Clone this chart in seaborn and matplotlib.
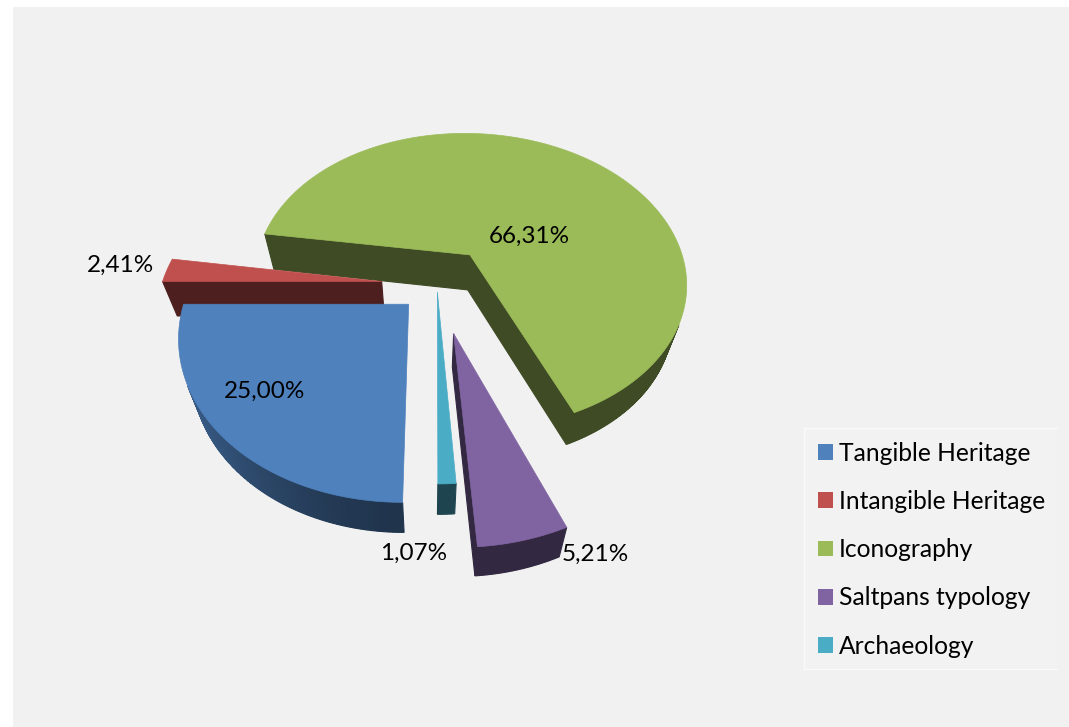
import numpy as np
import matplotlib
matplotlib.use("Agg")
import matplotlib.pyplot as plt
from matplotlib.patches import Polygon, Patch, Rectangle
import seaborn as sns

categories = ["Tangible Heritage", "Intangible Heritage", "Iconography", "Saltpans typology", "Archaeology"]
shares = [25.00, 2.41, 66.31, 5.21, 1.07]
explosion = [0.178, 0.253, 0.253, 0.311, 0.049]
slice_colors = ["#4f81bd", "#c0504d", "#9bbb59", "#8064a2", "#4bacc6"]

sns.set_theme(style="white")
plt.rcParams["font.family"] = ["Lato", "DejaVu Sans"]
palette = sns.color_palette(slice_colors)

# Slice geometry comes from matplotlib's own pie layout.
_, pie_ax = plt.subplots()
wedges = pie_ax.pie(shares, explode=explosion, startangle=270, counterclock=False, radius=1.0)[0]
pie_geometry = [(np.array(w.center), w.r, w.theta1, w.theta2) for w in wedges]
plt.close(_)

fig = plt.figure(figsize=(10.69, 7.27), dpi=100, facecolor="white")
ax = fig.add_axes([0, 0, 1, 1])
ax.set_xlim(0, 1069)
ax.set_ylim(727, 0)
ax.axis("off")
ax.add_patch(Rectangle((13, 7), 1056, 720, facecolor="#f1f1f1", edgecolor="none", zorder=0))

R, VIEW = 225.0, 1200.0


def project(x, y):
    """Tilted perspective view of the pie plane."""
    px = np.asarray(x) * R + 2
    z = -np.asarray(y) * R - 28
    s = 1 / (1 - z / VIEW)
    return 435 + px * s, -554 + 858 * s


def drop(X, Y):
    """Lower face of the extruded slice."""
    return 430 + (X - 430) * 0.945, Y + 35 - 0.02 * (Y - 254)


def shade(color, f):
    return tuple(np.clip(np.array(color) * f, 0, 1))


z = 2
for i in [2, 1, 0, 4, 3]:
    (c, r, t1, t2), col = pie_geometry[i], palette[i]
    th = np.radians(np.linspace(t1, t2, max(int(t2 - t1) * 2, 6)))
    x = np.r_[c[0], c[0] + r * np.cos(th)]
    y = np.r_[c[1], c[1] + r * np.sin(th)]
    X, Y = project(x, y)
    BX, BY = drop(X, Y)
    n = len(X)
    orient = np.sign(np.sum(X * np.roll(Y, -1) - np.roll(X, -1) * Y))
    for a in range(n):
        b = (a + 1) % n
        radial = a in (0, n - 1)
        ex, ey = X[b] - X[a], Y[b] - Y[a]
        dx, dy = BX[a] - X[a], BY[a] - Y[a]
        # keep only the walls whose outward side faces the viewer
        facing = -orient * (ex * dy - ey * dx) / max(np.hypot(ex, ey), 1e-9)
        if facing < (3.0 if radial else 0.0):
            continue
        f = 0.40
        if not radial:
            clock = np.pi / 2 - 0.5 * (th[a - 1] + th[a])  # clockwise from the top
            f = 0.40 + 0.38 * max(0.0, -np.sin(clock)) ** 1.5
        fc = shade(col, f)
        ax.add_patch(Polygon([(X[a], Y[a]), (X[b], Y[b]), (BX[b], BY[b]), (BX[a], BY[a])],
                             closed=True, facecolor=fc, edgecolor=fc, lw=0.8, zorder=z))
        z += 0.001
    z += 1
    ax.add_patch(Polygon(np.c_[X, Y], closed=True, facecolor=col, edgecolor=col, lw=0.5, zorder=z))
    z += 1

label_anchor = [(265, 391), (120, 265), (529, 236), (595, 554), (414, 553)]
for share, (lx, ly) in zip(shares, label_anchor):
    ax.text(lx, ly, f"{share:.2f}%".replace(".", ","), ha="center", va="center",
            fontsize=17.5, color="black", zorder=z + 1)

# Legend area with its faint outline
ax.add_patch(Rectangle((804, 428), 253, 241, facecolor="#f2f2f2", edgecolor="none", zorder=1))
ax.plot([1057, 804, 804, 1057], [428, 428, 669, 669], color="#fafafa", lw=1, zorder=1.5)

handles = [Patch(facecolor=c, edgecolor="none", label=n) for c, n in zip(palette, categories)]
leg = ax.legend(handles=handles, loc="upper left", bbox_to_anchor=(804 / 1069, 1 - 428 / 727),
                bbox_transform=fig.transFigure, fontsize=17.7, frameon=False, borderaxespad=0,
                handlelength=0.61, handleheight=0.61, handletextpad=0.26,
                labelspacing=1.03, borderpad=0.55, labelcolor="black")
fig.savefig("out.png", dpi=100, facecolor="white")
